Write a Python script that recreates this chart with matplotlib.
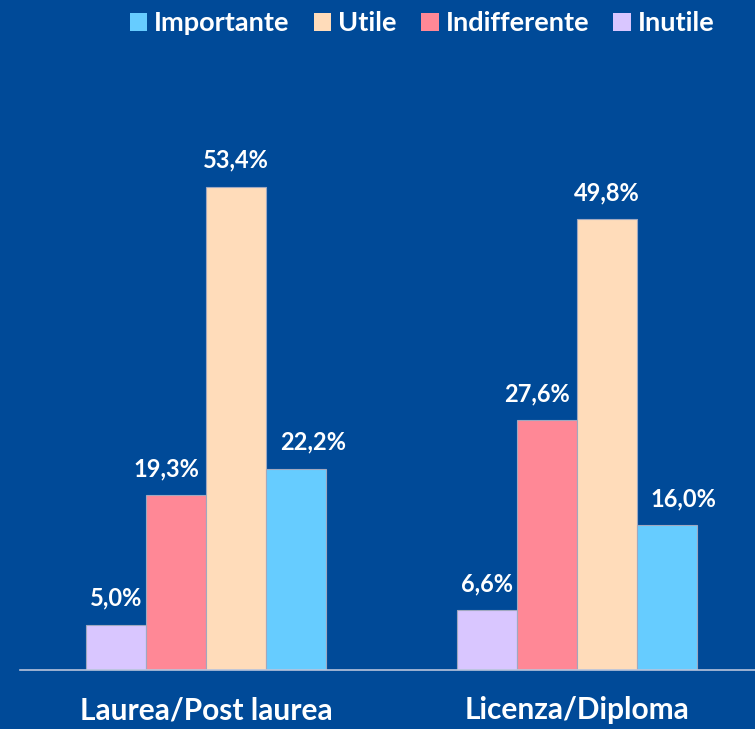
import numpy as np
import matplotlib
matplotlib.use('Agg')
import matplotlib.pyplot as plt
from matplotlib.patches import Patch

gruppi = ['Laurea/Post laurea', 'Licenza/Diploma']
serie = ['Inutile', 'Indifferente', 'Utile', 'Importante']
valori = {
    'Inutile': [5.0, 6.6],
    'Indifferente': [19.3, 27.6],
    'Utile': [53.4, 49.8],
    'Importante': [22.2, 16.0],
}
colori = {
    'Importante': '#66CCFF',
    'Utile': '#FFDCBA',
    'Indifferente': '#FF8896',
    'Inutile': '#D9C6FF',
}
# spostamento orizzontale delle etichette (punti), come nell'originale
sposta = {'Inutile': 0, 'Indifferente': -7, 'Utile': 0, 'Importante': 12}
ordine_legenda = ['Importante', 'Utile', 'Indifferente', 'Inutile']

sfondo = '#004A98'
plt.rcParams['font.family'] = ['Lato', 'DejaVu Sans']
plt.rcParams['font.weight'] = 'bold'

fig = plt.figure(figsize=(7.55, 7.29), dpi=100, facecolor=sfondo)
# asse: da x=20px al bordo destro, base a y=670px
ax = fig.add_axes([20 / 755, 59 / 729, 735 / 755, 543 / 729])
ax.set_facecolor(sfondo)

x = np.arange(len(gruppi))
larg = 60 / 371
for i, s in enumerate(serie):
    pos = x + (i - 1.5) * larg
    ax.bar(pos, valori[s], larg, color=colori[s], edgecolor='#A0A8C0', linewidth=0.8)
    for xp, v in zip(pos, valori[s]):
        ax.annotate(f'{v:.1f}%'.replace('.', ','), (xp, v), xytext=(sposta[s], 11),
                    textcoords='offset points', ha='center', va='bottom',
                    color='white', fontsize=17, fontweight='bold', annotation_clip=False)

ax.set_xlim((20 - 206) / 371, (755 - 206) / 371)
ax.set_ylim(0, 60)
ax.set_xticks(x)
ax.set_xticklabels(gruppi, color='white', fontsize=21.5, fontweight='bold')
ax.tick_params(axis='x', length=0, pad=19)
ax.set_yticks([])
for lato in ['top', 'right', 'left']:
    ax.spines[lato].set_visible(False)
ax.spines['bottom'].set_color('#B8C4DC')
ax.spines['bottom'].set_linewidth(1.2)

maniglie = [Patch(facecolor=colori[s], edgecolor='none', label=s) for s in ordine_legenda]
leg = fig.legend(handles=maniglie, loc='upper center', bbox_to_anchor=(0.559, 1.018), ncol=4,
                 frameon=False, fontsize=19.5, handlelength=0.65, handleheight=0.65,
                 handletextpad=0.25, columnspacing=0.9, labelcolor='white')
for t in leg.get_texts():
    t.set_fontweight('bold')

fig.savefig('out.png', dpi=100, facecolor=sfondo)
